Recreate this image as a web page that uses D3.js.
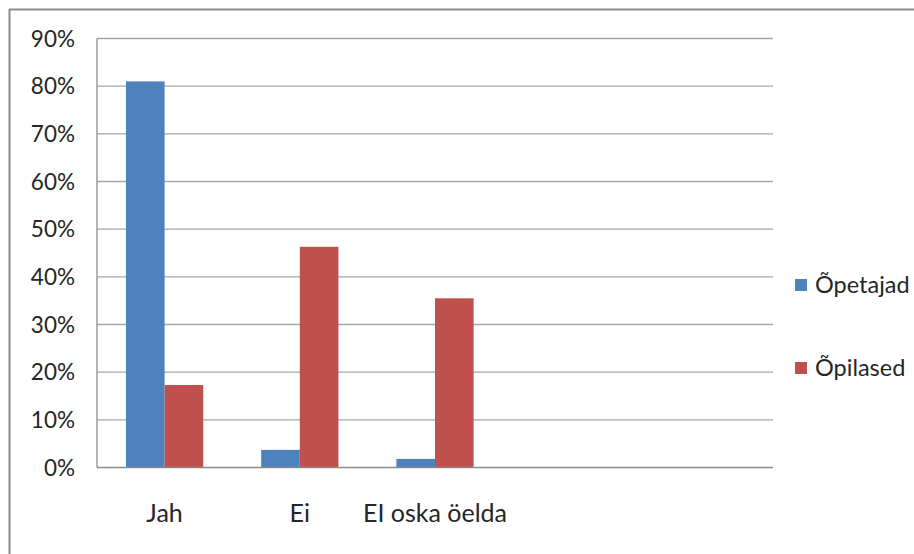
<!DOCTYPE html>
<html>
<head>
<meta charset="utf-8">
<script src="https://cdn.jsdelivr.net/npm/d3@7"></script>
<style>
  body { margin: 0; background: #fff; }
  text { font-family: Lato, "Open Sans", sans-serif; fill: #262626; }
</style>
</head>
<body>
<script>
// data
const categories = ['Jah', 'Ei', 'EI oska öelda'];
const slotCount = 5; // plot has room for 5 groups, last two are empty
const seriesNames = ['Õpetajad', 'Õpilased'];
const opetajad = [0.81, 0.037, 0.018];
const opilased = [0.173, 0.463, 0.355];
const yTicks = [0, 0.1, 0.2, 0.3, 0.4, 0.5, 0.6, 0.7, 0.8, 0.9];
const colors = ['#4F81BD', '#C0504D'];

const w = 914;
const h = 554;
const mLeft = 97, mTop = 38.5, plotW = 676, plotH = 429;

let svg = d3.select('body').append('svg').attr('width', w).attr('height', h);

// chart frame (only top and left edges show in the picture)
svg.append('line').attr('x1', 9).attr('x2', w).attr('y1', 9.5).attr('y2', 9.5)
  .attr('stroke', '#8a8a8a').attr('stroke-width', 2);
svg.append('line').attr('x1', 9.5).attr('x2', 9.5).attr('y1', 9).attr('y2', h)
  .attr('stroke', '#8a8a8a').attr('stroke-width', 2);

let g = svg.append('g').attr('transform', `translate(${mLeft},${mTop})`);

let x = d3.scaleBand().domain(d3.range(slotCount)).range([0, plotW]);
let bw = x.bandwidth();
let bar = bw / 3.5; // Excel gap width 150%
let xs = d3.scaleBand().domain(seriesNames).range([bar * 0.75, bar * 2.75]);
let y = d3.scaleLinear().domain([0, 0.9]).range([plotH, 0]);

// gridlines
g.selectAll('line.grid')
  .data(yTicks.filter((t) => t > 0))
  .enter()
  .append('line')
  .attr('class', 'grid')
  .attr('x1', 0)
  .attr('x2', plotW)
  .attr('y1', (d) => y(d))
  .attr('y2', (d) => y(d))
  .attr('stroke', '#a6a6a6')
  .attr('stroke-width', 1.3);

// bars
const rows = categories.map((c, i) => ({ i: i, vals: [opetajad[i], opilased[i]] }));
let groups = g.selectAll('g.grp')
  .data(rows)
  .enter()
  .append('g')
  .attr('transform', (d) => `translate(${x(d.i)},0)`);

groups.selectAll('rect')
  .data((d) => d.vals.map((v, k) => ({ s: seriesNames[k], v: v, k: k })))
  .enter()
  .append('rect')
  .attr('x', (d) => xs(d.s))
  .attr('width', xs.bandwidth())
  .attr('y', (d) => y(d.v))
  .attr('height', (d) => plotH - y(d.v))
  .attr('fill', (d) => colors[d.k]);

// axes lines
g.append('line').attr('x1', 0).attr('x2', 0).attr('y1', 0).attr('y2', plotH)
  .attr('stroke', '#8c8c8c').attr('stroke-width', 1.3);
g.append('line').attr('x1', 0).attr('x2', plotW).attr('y1', plotH).attr('y2', plotH)
  .attr('stroke', '#8c8c8c').attr('stroke-width', 1.5);

// y tick labels
g.selectAll('text.ytick')
  .data(yTicks)
  .enter()
  .append('text')
  .attr('class', 'ytick')
  .attr('x', -22)
  .attr('y', (d) => y(d))
  .attr('dy', '0.36em')
  .attr('text-anchor', 'end')
  .style('font-size', '22.5px')
  .text((d) => d3.format('.0%')(d));

// category labels
g.selectAll('text.cat')
  .data(categories)
  .enter()
  .append('text')
  .attr('class', 'cat')
  .attr('x', (d, i) => x(i) + bw / 2)
  .attr('y', 522 - mTop)
  .attr('text-anchor', 'middle')
  .style('font-size', '25px')
  .text((d) => d);

// legend
let legend = svg.selectAll('g.legend')
  .data(seriesNames)
  .enter()
  .append('g')
  .attr('transform', (d, i) => `translate(795,${279 + i * 83})`);

legend.append('rect').attr('width', 12).attr('height', 12).attr('fill', (d, i) => colors[i]);
legend.append('text')
  .attr('x', 20)
  .attr('y', 13.5)
  .style('font-size', '23.5px')
  .text((d) => d);
</script>
</body>
</html>
